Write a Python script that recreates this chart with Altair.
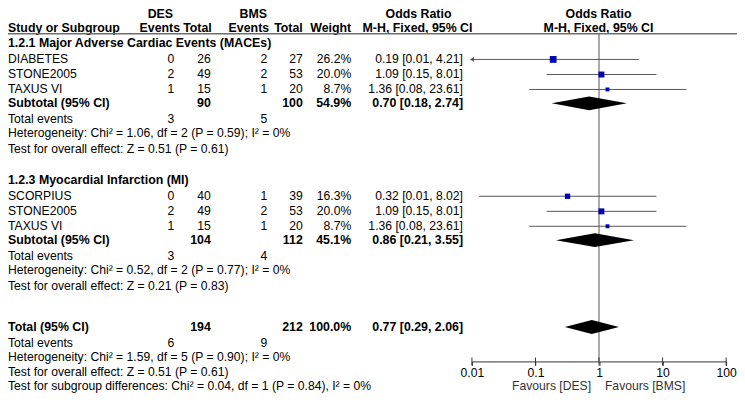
import altair as alt
import pandas as pd

FONT = "Liberation Sans"
FS = 12.3
FSB = 12.5

# ---------------- data ----------------
group_titles = ["1.2.1 Major Adverse Cardiac Events (MACEs)", "1.2.3 Myocardial Infarction (MI)"]

g_studies = [["DIABETES", "STONE2005", "TAXUS VI"], ["SCORPIUS", "STONE2005", "TAXUS VI"]]
g_des_events = [[0, 2, 1], [0, 2, 1]]
g_des_total = [[26, 49, 15], [40, 49, 15]]
g_bms_events = [[2, 2, 1], [1, 2, 1]]
g_bms_total = [[27, 53, 20], [39, 53, 20]]
g_weight = [[26.2, 20.0, 8.7], [16.3, 20.0, 8.7]]
g_or = [[0.19, 1.09, 1.36], [0.32, 1.09, 1.36]]
g_lo = [[0.009, 0.15, 0.08], [0.013, 0.15, 0.08]]
g_hi = [[4.21, 8.01, 23.61], [8.02, 8.01, 23.61]]

sub_des_total = [90, 104]
sub_bms_total = [100, 112]
sub_weight = [54.9, 45.1]
sub_or = [0.70, 0.86]
sub_lo = [0.18, 0.21]
sub_hi = [2.74, 3.55]
sub_des_events = [3, 3]
sub_bms_events = [5, 4]
sub_het = ["Heterogeneity: Chi² = 1.06, df = 2 (P = 0.59); I² = 0%",
           "Heterogeneity: Chi² = 0.52, df = 2 (P = 0.77); I² = 0%"]
sub_test = ["Test for overall effect: Z = 0.51 (P = 0.61)",
            "Test for overall effect: Z = 0.21 (P = 0.83)"]

tot_des_total, tot_bms_total, tot_weight = 194, 212, 100.0
tot_or, tot_lo, tot_hi = 0.77, 0.29, 2.06
tot_des_events, tot_bms_events = 6, 9
tot_het = "Heterogeneity: Chi² = 1.59, df = 5 (P = 0.90); I² = 0%"
tot_test = "Test for overall effect: Z = 0.51 (P = 0.61)"
tot_sub = "Test for subgroup differences: Chi² = 0.04, df = 1 (P = 0.84), I² = 0%"

axis_ticks = [0.01, 0.1, 1, 10, 100]
favours = ["Favours [DES]", "Favours [BMS]"]

# ---------------- layout (row lines) ----------------
W, H = 737, 386
Y_DOM = [-0.131, 25.18]
PX_PER_LINE = H / (Y_DOM[1] - Y_DOM[0])
block_start = [2.08, 11.15]
block_off = [1.06, 2.06, 3.05, 3.97, 5.02, 5.97, 6.98]
overall_lines = [20.88, 21.94, 22.90, 23.84, 24.76]
LINE_TOP_HDR, LINE_HDR, LINE_RULE, LINE_AXIS, LINE_FAV = 0.13, 1.05, 1.44, 23.16, 24.80

cells = []   # line, col, text, bold
study_rows = []
diamonds = []

def fmt_ci(o, l, h):
    return f"{o:.2f} [{l:.2f}, {h:.2f}]"

for g in range(2):
    t = block_start[g]
    cells.append((t, "study", group_titles[g], True))
    for i in range(3):
        ln = t + block_off[i]
        cells += [(ln, "study", g_studies[g][i], False),
                  (ln, "des_ev", str(g_des_events[g][i]), False),
                  (ln, "des_tot", str(g_des_total[g][i]), False),
                  (ln, "bms_ev", str(g_bms_events[g][i]), False),
                  (ln, "bms_tot", str(g_bms_total[g][i]), False),
                  (ln, "weight", f"{g_weight[g][i]:.1f}%", False),
                  (ln, "ortext", fmt_ci(g_or[g][i], g_lo[g][i], g_hi[g][i]), False)]
        study_rows.append(dict(line=ln, est=g_or[g][i], lo=g_lo[g][i], hi=g_hi[g][i], weight=g_weight[g][i]))
    ln = t + block_off[3]
    cells += [(ln, "study", "Subtotal (95% CI)", True),
              (ln, "des_tot", str(sub_des_total[g]), True),
              (ln, "bms_tot", str(sub_bms_total[g]), True),
              (ln, "weight", f"{sub_weight[g]:.1f}%", True),
              (ln, "ortext", fmt_ci(sub_or[g], sub_lo[g], sub_hi[g]), True)]
    diamonds.append((f"s{g}", ln, sub_or[g], sub_lo[g], sub_hi[g]))
    ln = t + block_off[4]
    cells += [(ln, "study", "Total events", False),
              (ln, "des_ev", str(sub_des_events[g]), False),
              (ln, "bms_ev", str(sub_bms_events[g]), False)]
    cells.append((t + block_off[5], "study", sub_het[g], False))
    cells.append((t + block_off[6], "study", sub_test[g], False))

ln = overall_lines[0]
cells += [(ln, "study", "Total (95% CI)", True),
          (ln, "des_tot", str(tot_des_total), True),
          (ln, "bms_tot", str(tot_bms_total), True),
          (ln, "weight", f"{tot_weight:.1f}%", True),
          (ln, "ortext", fmt_ci(tot_or, tot_lo, tot_hi), True)]
diamonds.append(("t", ln, tot_or, tot_lo, tot_hi))
ln = overall_lines[1]
cells += [(ln, "study", "Total events", False),
          (ln, "des_ev", str(tot_des_events), False),
          (ln, "bms_ev", str(tot_bms_events), False)]
cells.append((overall_lines[2], "study", tot_het, False))
cells.append((overall_lines[3], "study", tot_test, False))
cells.append((overall_lines[4], "study", tot_sub, False))

cells_df = pd.DataFrame(cells, columns=["line", "col", "text", "bold"])
studies_df = pd.DataFrame(study_rows)

half = 7 / PX_PER_LINE
dpts = []
for did, l, o, lo, hi in diamonds:
    dpts += [dict(id=did, x=lo, y1=l, y2=l), dict(id=did, x=o, y1=l - half, y2=l + half),
             dict(id=did, x=hi, y1=l, y2=l)]
diam_df = pd.DataFrame(dpts)

headers = [
    (LINE_TOP_HDR, 154, "center", "DES"), (LINE_TOP_HDR, 248, "center", "BMS"),
    (LINE_TOP_HDR, 415, "center", "Odds Ratio"), (LINE_TOP_HDR, 597, "center", "Odds Ratio"),
    (LINE_HDR, 0, "left", "Study or Subgroup"), (LINE_HDR, 174, "right", "Events"),
    (LINE_HDR, 206, "right", "Total"), (LINE_HDR, 264, "right", "Events"),
    (LINE_HDR, 298, "right", "Total"), (LINE_HDR, 347, "right", "Weight"),
    (LINE_HDR, 414, "center", "M-H, Fixed, 95% CI"), (LINE_HDR, 597, "center", "M-H, Fixed, 95% CI"),
]

col_pos = {"study": (0, "left"), "des_ev": (168, "right"), "des_tot": (205, "right"),
           "bms_ev": (262, "right"), "bms_tot": (298, "right"), "weight": (347, "right"),
           "ortext": (460, "right")}

YS = alt.Scale(domain=Y_DOM, reverse=True, zero=False, nice=False)
XS = alt.Scale(type="log", domain=[0.01, 100], range=[469, 726], clamp=True)
axis_offset = (LINE_AXIS - Y_DOM[0]) * PX_PER_LINE - H
XAX = alt.Axis(orient="bottom", offset=axis_offset, values=axis_ticks, format="~g", title=None,
               grid=False, tickSize=4, tickColor="#333", domainColor="#333", labelColor="black",
               labelFont=FONT, labelFontSize=FS, labelPadding=1, labelFlush=False, labelOverlap=False)

def Y(field="line"):
    return alt.Y(f"{field}:Q", scale=YS, axis=None)

layers = []
# text cells
for col, (xp, al) in col_pos.items():
    for b in (False, True):
        sub = cells_df[(cells_df.col == col) & (cells_df.bold == b)]
        if len(sub) == 0:
            continue
        layers.append(alt.Chart(sub).mark_text(align=al, baseline="middle", font=FONT,
                                               fontSize=FSB if b else FS,
                                               fontWeight="bold" if b else "normal", color="black")
                      .encode(x=alt.value(xp), y=Y(), text="text:N"))
for ln, xp, al, tx in headers:
    layers.append(alt.Chart(pd.DataFrame({"line": [ln], "text": [tx]}))
                  .mark_text(align=al, baseline="middle", font=FONT, fontSize=FSB, fontWeight="bold", color="black")
                  .encode(x=alt.value(xp), y=Y(), text="text:N"))

# header rule
layers.append(alt.Chart(pd.DataFrame({"line": [LINE_RULE]})).mark_rule(color="#6e6e6e", strokeWidth=1.5)
              .encode(x=alt.value(0), x2=alt.value(W), y=Y()))
# vertical line at 1
layers.append(alt.Chart(pd.DataFrame({"v": [1], "a": [LINE_RULE], "b": [LINE_AXIS]}))
              .mark_rule(color="#555", strokeWidth=1)
              .encode(x=alt.X("v:Q", scale=XS, axis=XAX), y=Y("a"), y2="b:Q"))
# CI lines
layers.append(alt.Chart(studies_df).mark_rule(color="#555", strokeWidth=1)
              .encode(x=alt.X("lo:Q", scale=XS, axis=XAX), x2="hi:Q", y=Y()))
# arrow for truncated CI
layers.append(alt.Chart(studies_df).transform_filter("datum.lo < 0.01")
              .mark_point(shape="triangle-left", filled=True, size=22, color="#555", opacity=1)
              .encode(x=alt.X("lo:Q", scale=XS, axis=XAX), y=Y()))
# squares
layers.append(alt.Chart(studies_df).mark_square(color="#0000b4", opacity=1)
              .encode(x=alt.X("est:Q", scale=XS, axis=XAX), y=Y(),
                      size=alt.Size("weight:Q", scale=alt.Scale(domain=[0, 30], range=[0, 54]), legend=None)))
# diamonds
layers.append(alt.Chart(diam_df).mark_area(color="black", opacity=1)
              .encode(x=alt.X("x:Q", scale=XS, axis=XAX), y=Y("y1"), y2="y2:Q", detail="id:N"))
# crossing ticks on axis
layers.append(alt.Chart(pd.DataFrame({"t": axis_ticks, "line": [LINE_AXIS] * 5}))
              .mark_tick(orient="vertical", size=8, thickness=1, color="#333", opacity=1)
              .encode(x=alt.X("t:Q", scale=XS, axis=XAX), y=Y()))
# favours labels
fav_df = pd.DataFrame({"v": [1, 1], "line": [LINE_FAV] * 2, "text": favours})
layers.append(alt.Chart(fav_df.iloc[[0]]).mark_text(align="right", baseline="middle", dx=-8, font=FONT, fontSize=FS, color="#333")
              .encode(x=alt.X("v:Q", scale=XS, axis=XAX), y=Y(), text="text:N"))
layers.append(alt.Chart(fav_df.iloc[[1]]).mark_text(align="left", baseline="middle", dx=6, font=FONT, fontSize=FS, color="#333")
              .encode(x=alt.X("v:Q", scale=XS, axis=XAX), y=Y(), text="text:N"))

chart = (alt.layer(*layers)
         .properties(width=W, height=H, padding=0, autosize=alt.AutoSizeParams(type="none"))
         .configure_view(stroke=None)
         .configure_axis(labelFont=FONT))

chart.save("out.html", embed_options={"renderer": "svg", "actions": False})
